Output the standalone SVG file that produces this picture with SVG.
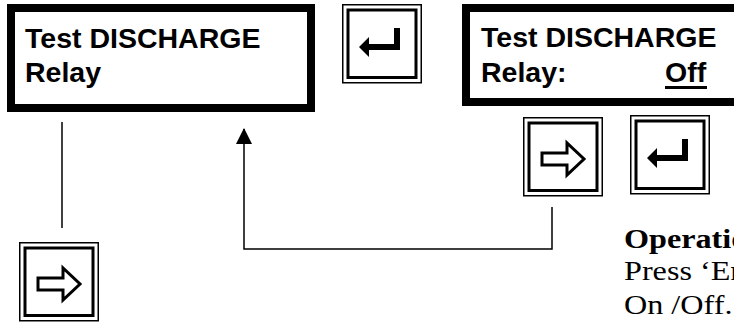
<svg xmlns="http://www.w3.org/2000/svg" xmlns:xlink="http://www.w3.org/1999/xlink" width="734" height="324" viewBox="0 0 734 324">
<style>
.lcd{fill:#fff;stroke:#000;stroke-width:8}
.lt{font-family:"Liberation Sans",Arial,sans-serif;font-weight:bold;font-size:28.5px;fill:#000}
.tt{font-family:"Liberation Serif","Times New Roman",serif;font-size:28px;fill:#000}
.conn{fill:none;stroke:#000;stroke-width:1.5}
</style>
<defs>
<g id="keyFrame">
<rect x="0.75" y="0.75" width="78.5" height="78" fill="#fff" stroke="#000" stroke-width="1.5"/>
<rect x="6" y="6" width="68" height="67.5" fill="none" stroke="#000" stroke-width="3"/>
</g>
<path id="enterSym" d="M58,24 L58,46 L27,46 L27,53 L17,43 L27,33 L27,40 L52,40 L52,24 Z" fill="#000"/>
<path id="rightSym" d="M19,36 L44,36 L44,26 L61,42 L44,58 L44,48 L19,48 Z" fill="#fff" stroke="#000" stroke-width="3" stroke-linejoin="miter"/>
<marker id="ah" markerWidth="16" markerHeight="16" viewBox="0 0 16 16" refX="15" refY="8" orient="auto" markerUnits="userSpaceOnUse">
<path d="M0,0 L16,8 L0,16 Z" fill="#000"/>
</marker>
</defs>
<g id="connectors">
<line class="conn" x1="62" y1="122" x2="62" y2="228"/>
<polyline class="conn" points="552,207 552,249 244,249 244,129" marker-end="url(#ah)"/>
</g>
<g id="lcd1">
<rect class="lcd" x="11" y="8" width="300" height="100"/>
<text class="lt" x="25" y="48">Test DISCHARGE</text>
<text class="lt" x="25" y="82">Relay</text>
</g>
<g id="enter1" transform="translate(342,4)">
<use xlink:href="#keyFrame"/>
<use xlink:href="#enterSym"/>
</g>
<g id="lcd2">
<rect class="lcd" x="466" y="8" width="272" height="94"/>
<text class="lt" x="481" y="47">Test DISCHARGE</text>
<text class="lt" x="481" y="82">Relay:</text>
<text class="lt" x="665" y="82">Off</text>
<rect x="665" y="86" width="42" height="3" fill="#000"/>
</g>
<g id="right1" transform="translate(523,117)">
<use xlink:href="#keyFrame"/>
<use xlink:href="#rightSym"/>
</g>
<g id="enter2" transform="translate(630,115)">
<use xlink:href="#keyFrame"/>
<use xlink:href="#enterSym"/>
</g>
<g id="right2" transform="translate(19,242)">
<use xlink:href="#keyFrame"/>
<use xlink:href="#rightSym"/>
</g>
<g id="note" transform="translate(624,0) scale(1.15,1) translate(-624,0)">
<text class="tt" x="624" y="248" font-weight="bold">Operation</text>
<text class="tt" x="624" y="280">Press ‘Enter’</text>
<text class="tt" x="624" y="314">On /Off.</text>
</g>
</svg>
